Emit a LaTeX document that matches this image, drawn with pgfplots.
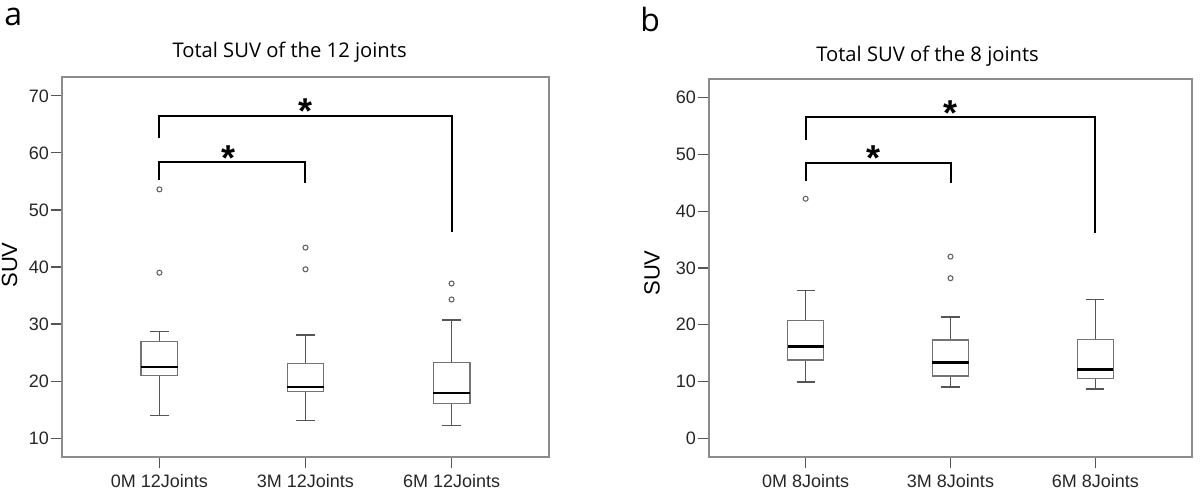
\documentclass[border=0pt]{standalone}
\usepackage{pgfplots}
\pgfplotsset{compat=1.18}
\usepgfplotslibrary{statistics}
\usepackage{fontspec}
\setmainfont{Liberation Sans}
\newfontfamily\segoe{Open Sans}

\definecolor{boxgray}{HTML}{737373}
\definecolor{whiskgray}{HTML}{555555}
\definecolor{framegray}{HTML}{8C8C8C}
\definecolor{outgray}{HTML}{666666}

\tikzset{
  bracket/.style={black, line width=1pt},
  star/.style={font=\bfseries\fontsize{18}{18}\selectfont, anchor=base, yshift=-10.4pt, inner sep=0pt},
}

\pgfplotsset{
  suvaxis/.style={
    scale only axis,
    anchor=south west,
    xmin=0.333, xmax=3.667,
    xtick={1,2,3},
    tick align=outside,
    tick pos=left,
    major tick length=5.5pt,
    axis line style={framegray, line width=0.6pt},
    every tick/.style={whiskgray, line width=0.6pt},
    tick label style={font=\fontsize{9}{10}\selectfont, text=black!85},
    /pgf/number format/assume math mode=true,
    yticklabel style={inner sep=0.8pt},
    xticklabel style={yshift=0.5pt},
    boxplot/draw direction=y,
    boxplot/box extend=0.25,
    boxplot/whisker extend=0.125,
    boxplot/every box/.style={draw=boxgray, line width=0.7pt},
    boxplot/every whisker/.style={draw=whiskgray, line width=0.7pt},
    boxplot/every median/.style={draw=black, line width=1.3pt},
    clip=false,
  },
  sbox/.style={boxgray, line width=0.7pt, mark=o, mark size=1.25pt,
    mark options={outgray, line width=0.55pt, solid}},
}

\begin{document}
\begin{tikzpicture}
\useasboundingbox (0,0) rectangle (600pt,248pt);

% panel a
\begin{axis}[suvaxis, at={(31pt,19.5pt)}, width=243.5pt, height=190pt,
    ymin=6.7, ymax=73.3, ytick={10,20,...,70},
    xticklabels={0M 12Joints, 3M 12Joints, 6M 12Joints}]
  \addplot[sbox, boxplot prepared={draw position=1, lower whisker=14.0,
      lower quartile=21.0, median=22.5, upper quartile=26.9, upper whisker=28.7}]
    coordinates {(0,53.6) (0,39.0)};
  \addplot[sbox, boxplot prepared={draw position=2, lower whisker=13.1,
      lower quartile=18.2, median=19.0, upper quartile=23.1, upper whisker=28.1}]
    coordinates {(0,43.4) (0,39.6)};
  \addplot[sbox, boxplot prepared={draw position=3, lower whisker=12.2,
      lower quartile=16.1, median=17.9, upper quartile=23.3, upper whisker=30.7}]
    coordinates {(0,37.1) (0,34.3)};
  \draw[bracket] (axis cs:1,62.6) -- (axis cs:1,66.5) -- (axis cs:3,66.5) -- (axis cs:3,46.2);
  \draw[bracket] (axis cs:1,55.3) -- (axis cs:1,58.4) -- (axis cs:2,58.4) -- (axis cs:2,54.8);
  \node[star] at (axis cs:2,68.8) {*};
  \node[star] at (axis cs:1.47,60.6) {*};
\end{axis}

% panel b
\begin{axis}[suvaxis, at={(354.5pt,19.5pt)}, width=241.5pt, height=189pt,
    ymin=-3.3, ymax=63.3, ytick={0,10,...,60},
    xticklabels={0M 8Joints, 3M 8Joints, 6M 8Joints}]
  \addplot[sbox, boxplot prepared={draw position=1, lower whisker=9.9,
      lower quartile=13.8, median=16.2, upper quartile=20.7, upper whisker=26.0}]
    coordinates {(0,42.2)};
  \addplot[sbox, boxplot prepared={draw position=2, lower whisker=9.0,
      lower quartile=11.0, median=13.3, upper quartile=17.3, upper whisker=21.4}]
    coordinates {(0,32.0) (0,28.2)};
  \addplot[sbox, boxplot prepared={draw position=3, lower whisker=8.7,
      lower quartile=10.5, median=12.1, upper quartile=17.4, upper whisker=24.5}]
    coordinates {};
  \draw[bracket] (axis cs:1,52.6) -- (axis cs:1,56.6) -- (axis cs:3,56.6) -- (axis cs:3,36.2);
  \draw[bracket] (axis cs:1,45.3) -- (axis cs:1,48.5) -- (axis cs:2,48.5) -- (axis cs:2,45.0);
  \node[star] at (axis cs:2,58.8) {*};
  \node[star] at (axis cs:1.47,50.8) {*};
\end{axis}

% titles, panel letters and axis titles
\node[anchor=base, font=\segoe\fontsize{10.1}{12}\selectfont] at (144.8pt,219pt) {Total SUV of the 12 joints};
\node[anchor=base, font=\segoe\fontsize{10.1}{12}\selectfont] at (463.8pt,217pt) {Total SUV of the 8 joints};
\node[anchor=base west, inner sep=0pt, font=\segoe\fontsize{16}{16}\selectfont] at (2pt,235pt) {a};
\node[anchor=base west, inner sep=0pt, font=\segoe\fontsize{16}{16}\selectfont] at (320pt,232pt) {b};
\node[rotate=90, font=\fontsize{11}{12}\selectfont] at (4.8pt,115.5pt) {SUV};
\node[rotate=90, font=\fontsize{11}{12}\selectfont] at (326pt,111.5pt) {SUV};
\end{tikzpicture}
\end{document}
